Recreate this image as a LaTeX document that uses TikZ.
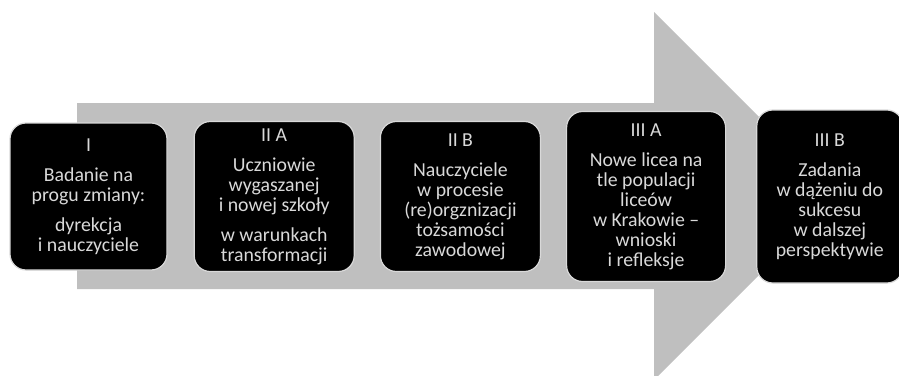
\documentclass[tikz,border=0pt]{standalone}
\usepackage{fontspec}
\setmainfont{Carlito}
\usepackage{tikz}
\usetikzlibrary{positioning}
\definecolor{arrow-gray}{HTML}{BFBFBF}
\definecolor{label-gray}{HTML}{D9D9D9}

\begin{document}
\begin{tikzpicture}[
    x=0.5pt, y=-0.5pt,
    node distance=12.5pt,
    stage/.style={rectangle, draw=white!85!black, line width=0.6pt, fill=black, text=label-gray, align=center, rounded corners=8pt, inner sep=0pt, font=\fontsize{9.9}{10}\selectfont},
    bigarrow/.style={fill=arrow-gray}
]
    \useasboundingbox (0,0) rectangle (899,375);
    \clip (0,0) rectangle (899,375);

    % the wide arrow behind the stages
    \fill[bigarrow] (77,103) -- (654,103) -- (654,12) -- (838,196) -- (654,380) -- (654,289) -- (77,289) -- cycle;

    \node[stage, minimum width=78.5pt, minimum height=73.5pt] (s1) at (88.5,196.5) {I\\[5pt]Badanie na\\progu zmiany:\\[5pt]dyrekcja\\i nauczyciele};
    \node[stage, minimum width=80pt, minimum height=75pt, right=13pt of s1] (s2a) {II A\\[5pt]Uczniowie\\wygaszanej\\i nowej szkoły\\[5pt]w warunkach\\transformacji};
    \node[stage, minimum width=80pt, minimum height=75pt, right=of s2a] (s2b) {II B\\[5pt]Nauczyciele\\w procesie\\(re)orgznizacji\\tożsamości\\zawodowej};
    \node[stage, minimum width=79.5pt, minimum height=85pt, right=of s2b] (s3a) {III A\\[5pt]Nowe licea na\\tle populacji\\liceów\\w Krakowie --\\wnioski\\i refleksje};
    \node[stage, minimum width=73pt, minimum height=86.5pt, right=15pt of s3a] (s3b) {III B\\[5pt]Zadania\\w dążeniu do\\sukcesu\\w dalszej\\perspektywie};
\end{tikzpicture}
\end{document}
